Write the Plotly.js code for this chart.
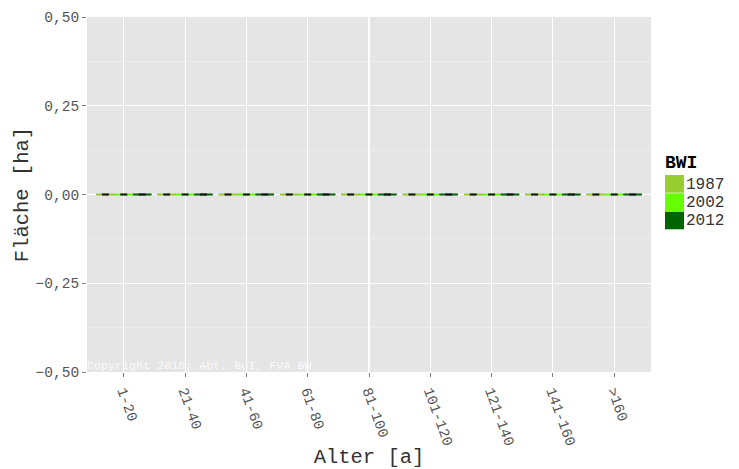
<!DOCTYPE html>
<html>
<head>
<meta charset="utf-8">
<script src="https://cdn.plot.ly/plotly-3.0.1.min.js"></script>
<style>html,body{margin:0;padding:0;background:#fff;}#chart{width:739px;height:469px;}</style>
</head>
<body>
<div id="chart"></div>
<script>
const categories = ["1-20","21-40","41-60","61-80","81-100","101-120","121-140","141-160",">160"];
const years = ["1987","2002","2012"];
const colors = ["#9ACD32","#66FF00","#006400"];
const values1987 = [0,0,0,0,0,0,0,0,0];
const values2002 = [0,0,0,0,0,0,0,0,0];
const values2012 = [0,0,0,0,0,0,0,0,0];
const seriesValues = [values1987, values2002, values2012];
const copyrightText = "Copyright 2015; Abt. BuI, FVA BW";

const FONT = '"Liberation Mono", "DejaVu Sans Mono", monospace';
const traces = [];
years.forEach((y, i) => {
  traces.push({
    type: 'bar', name: y, x: categories, y: seriesValues[i],
    offsetgroup: 'g' + i, showlegend: false,
    marker: {color: colors[i], line: {color: 'black', width: 0.5}},
    error_y: {type: 'data', array: seriesValues[i].map(() => 0), color: colors[i], thickness: 2, width: 9.2},
    hoverinfo: 'x+y+name'
  });
  traces.push({
    type: 'bar', name: y + ' outline', x: categories, y: seriesValues[i],
    offsetgroup: 'g' + i, showlegend: false,
    marker: {color: 'rgba(0,0,0,0)'},
    error_y: {type: 'data', array: seriesValues[i].map(() => 0), color: '#111', thickness: 2, width: 3.5},
    hoverinfo: 'skip'
  });
});

// legend built from the series arrays
const shapes = [];
const annotations = [];
const legX0 = 665, legTop = 175, keyH = 18.3, keyW = 19;
const plotL = 87, plotR = 651, plotT = 17, plotB = 372;
const px = v => (v - plotL) / (plotR - plotL);
const py = v => (plotB - v) / (plotB - plotT);
annotations.push({xref: 'paper', yref: 'paper', x: px(legX0 - 1), y: py(legTop - 1), xanchor: 'left', yanchor: 'bottom',
  text: '<b>BWI</b>', showarrow: false, borderpad: 0, font: {family: FONT, size: 18, color: '#000'}});
years.forEach((y, i) => {
  const t = legTop + i * keyH;
  shapes.push({type: 'rect', xref: 'paper', yref: 'paper', x0: px(legX0), x1: px(legX0 + keyW), y0: py(t), y1: py(t + keyH - 0.6),
    fillcolor: colors[i], line: {width: 0}});
  annotations.push({xref: 'paper', yref: 'paper', x: px(legX0 + keyW + 1), y: py(t + keyH / 2 + 0.5), xanchor: 'left', yanchor: 'middle',
    text: y, showarrow: false, borderpad: 0, font: {family: FONT, size: 16, color: '#333'}});
});
annotations.push({xref: 'paper', yref: 'paper', x: 0, y: 0, xanchor: 'left', yanchor: 'bottom', xshift: -2, yshift: -3,
  text: copyrightText, showarrow: false, font: {family: FONT, size: 11.7, color: 'rgba(255,255,255,0.85)'}});

const layout = {
  width: 739, height: 469,
  margin: {l: plotL, r: 739 - plotR, t: plotT, b: 469 - plotB},
  paper_bgcolor: '#ffffff', plot_bgcolor: '#E5E5E5',
  separators: ',.',
  barmode: 'group', bargap: 0.1, bargroupgap: 0,
  showlegend: false,
  font: {family: FONT, color: '#333'},
  xaxis: {
    type: 'category', range: [-0.6, 8.6], showgrid: true, gridcolor: '#ffffff', gridwidth: 1.1,
    zeroline: false, showline: false, ticks: 'outside', ticklen: 4, tickcolor: '#7f7f7f', tickwidth: 1,
    tickangle: 70, tickfont: {family: FONT, size: 14.5, color: '#555'},
    title: {text: 'Alter [a]', font: {family: FONT, size: 20.5, color: '#333'}, standoff: 4}
  },
  yaxis: {
    range: [-0.5, 0.5], dtick: 0.25, tick0: 0, tickformat: '.2f', showgrid: true, gridcolor: '#ffffff', gridwidth: 1.1,
    zeroline: false, showline: false, ticks: 'outside', ticklen: 4, tickcolor: '#7f7f7f', tickwidth: 1,
    tickfont: {family: FONT, size: 14.5, color: '#555'},
    minor: {dtick: 0.25, tick0: 0.125, showgrid: true, gridcolor: '#F2F2F2', gridwidth: 0.6, ticks: ''},
    title: {text: 'Fläche [ha]', font: {family: FONT, size: 20.5, color: '#333'}, standoff: 1}
  },
  shapes: shapes,
  annotations: annotations
};
Plotly.newPlot('chart', traces, layout, {displayModeBar: false, staticPlot: true});
</script>
</body>
</html>
